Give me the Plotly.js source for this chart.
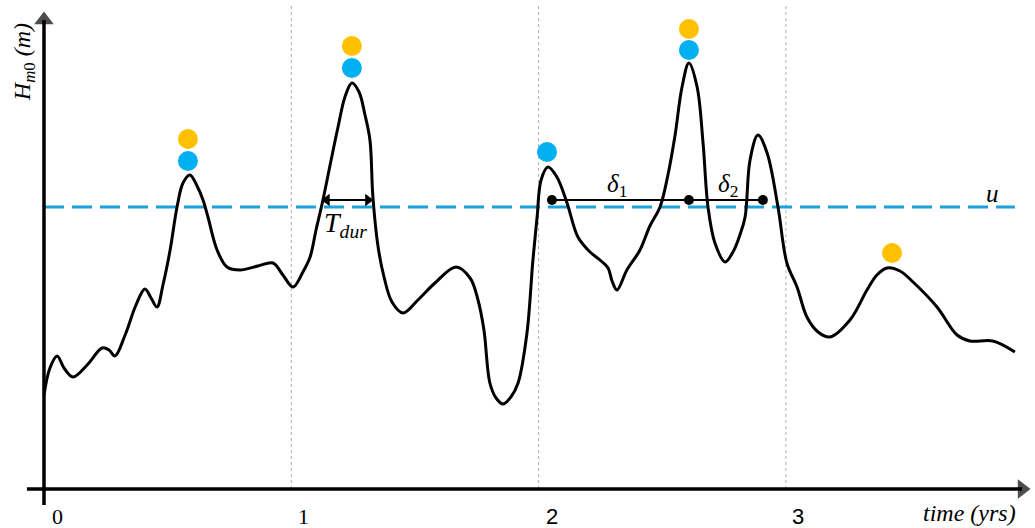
<!DOCTYPE html>
<html>
<head>
<meta charset="utf-8">
<script src="https://cdn.plot.ly/plotly-3.0.1.min.js"></script>
<style>html,body{margin:0;padding:0;background:#fff;}#chart{width:1035px;height:528px;}</style>
</head>
<body>
<div id="chart"></div>
<script>
// time series (years) and wave height Hm0 (m)
const time = [0,0.024,0.053,0.081,0.117,0.178,0.235,0.263,0.287,0.328,0.372,0.408,0.433,0.457,0.481,0.510,0.538,0.562,0.590,0.619,0.643,0.663,0.700,0.740,0.793,0.865,0.926,0.966,1.007,1.047,1.076,1.100,1.128,1.161,1.189,1.217,1.245,1.274,1.298,1.318,1.330,1.351,1.375,1.407,1.452,1.512,1.581,1.666,1.723,1.755,1.779,1.803,1.828,1.856,1.888,1.917,1.953,1.977,1.994,2.010,2.038,2.074,2.115,2.159,2.208,2.248,2.281,2.297,2.317,2.357,2.410,2.450,2.491,2.523,2.552,2.580,2.608,2.641,2.665,2.685,2.713,2.754,2.786,2.814,2.835,2.855,2.887,2.924,2.968,3.004,3.045,3.085,3.130,3.178,3.259,3.328,3.368,3.409,3.461,3.514,3.611,3.692,3.744,3.837,3.926];
const hm0 = [0.94,1.21,1.33,1.21,1.12,1.25,1.41,1.39,1.33,1.54,1.84,2.00,1.91,1.82,2.04,2.39,2.82,3.06,3.14,3.03,2.89,2.72,2.39,2.22,2.19,2.23,2.26,2.14,2.02,2.17,2.32,2.59,2.89,3.29,3.62,3.92,4.06,3.97,3.74,3.49,2.92,2.42,2.12,1.87,1.76,1.89,2.06,2.22,2.11,1.89,1.59,1.06,0.91,0.85,0.92,1.06,1.56,2.29,2.72,3.09,3.22,3.12,2.86,2.52,2.37,2.29,2.21,2.08,1.99,2.19,2.39,2.63,2.82,3.14,3.54,4.02,4.26,4.02,3.46,2.82,2.46,2.27,2.37,2.54,2.72,3.29,3.54,3.36,2.82,2.26,2.02,1.72,1.57,1.52,1.69,1.99,2.14,2.21,2.18,2.07,1.82,1.54,1.48,1.48,1.37];

// threshold u
const threshold = 2.82;
const thresholdSpan = [0, 3.926];

// peak markers
const bluePeakT = [0.582, 1.245, 2.034, 2.608];
const bluePeakH = [3.28, 4.21, 3.37, 4.39];
const orangePeakT = [0.582, 1.245, 2.608, 3.429];
const orangePeakH = [3.50, 4.43, 4.60, 2.36];

// inter-event spacing (delta) markers
const deltaT = [2.054, 2.608, 2.907];
const deltaH = [2.89, 2.89, 2.89];

// duration T_dur
const durSpan = [1.124, 1.330];
const durH = 2.89;

// year ticks
const tickVals = [1, 2, 3];
const tickLabels = ['0', '1', '2', '3'];
const tickLabelPos = [0.053, 1.051, 2.054, 3.049];

const xr = [-0.1779, 4.0073];
const yr = [-0.39, 4.89];

const traces = [
  {x: thresholdSpan, y: [threshold, threshold], mode: 'lines',
   line: {color: '#1ba1dc', width: 3, dash: '20px,8px'}, hoverinfo: 'skip'},
  {x: time, y: hm0, mode: 'lines', line: {color: '#000', width: 3, shape: 'spline', smoothing: 1.0}},
  {x: deltaT, y: deltaH, mode: 'lines+markers', line: {color: '#000', width: 2},
   marker: {color: '#000', size: 10}},
  {x: bluePeakT, y: bluePeakH, mode: 'markers', marker: {color: '#00b0f0', size: 20}},
  {x: orangePeakT, y: orangePeakH, mode: 'markers', marker: {color: '#ffc000', size: 20}},
  // x axis with arrow head
  {x: [-0.069, 3.955], y: [0, 0], mode: 'lines+markers', line: {color: '#000', width: 3.5},
   marker: {symbol: ['circle', 'triangle-right'], size: [0, 17], color: '#000', line: {width: 0}}},
  // y axis with arrow head
  {x: [0, 0], y: [-0.16, 4.69], mode: 'lines+markers', line: {color: '#000', width: 3.5},
   marker: {symbol: ['circle', 'triangle-up'], size: [0, 17], color: '#000', line: {width: 0}}},
  // T_dur double arrow
  {x: durSpan, y: [durH, durH], mode: 'lines', line: {color: '#000', width: 2}},
  {x: [durSpan[0] + 0.02, durSpan[1] - 0.02], y: [durH, durH], mode: 'markers',
   marker: {symbol: ['triangle-left', 'triangle-right'], size: 11, color: '#000', line: {width: 0}}}
];

const shapes = tickVals.map(v => ({type: 'line', xref: 'x', yref: 'y', x0: v, x1: v, y0: 0, y1: 4.84,
  line: {color: '#b0b0b0', width: 1, dash: 'dot'}, layer: 'below'}));

const serif = 'Liberation Serif';
const anns = [
  {x: 1.219, y: 2.65, xref: 'x', yref: 'y', text: '<i>T</i><sub><i>dur</i></sub>', showarrow: false,
   font: {family: serif, size: 28, color: '#000'}},
  {x: 2.317, y: 3.04, xref: 'x', yref: 'y', text: '<i>δ</i><sub>1</sub>', showarrow: false,
   font: {family: serif, size: 25, color: '#000'}},
  {x: 2.766, y: 3.04, xref: 'x', yref: 'y', text: '<i>δ</i><sub>2</sub>', showarrow: false,
   font: {family: serif, size: 25, color: '#000'}},
  {x: 3.837, y: 2.96, xref: 'x', yref: 'y', text: '<i>u</i>', showarrow: false,
   font: {family: serif, size: 25, color: '#000'}},
  {x: 3.744, y: -0.24, xref: 'x', yref: 'y', text: '<i>time (yrs)</i>', showarrow: false,
   font: {family: serif, size: 24, color: '#000'}},
  {x: -0.080, y: 4.27, xref: 'x', yref: 'y', text: '<i>H</i><sub><i>m</i>0</sub> <i>(m)</i>', showarrow: false,
   textangle: -90, font: {family: serif, size: 24, color: '#000'}}
];
tickLabels.forEach((t, i) => anns.push({x: tickLabelPos[i], y: -0.27, xref: 'x', yref: 'y', text: t, showarrow: false,
  font: {family: i < 2 ? serif : 'Liberation Sans', size: 22, color: '#000'}}));

const layout = {
  width: 1035, height: 528, autosize: false,
  margin: {l: 0, r: 0, t: 0, b: 0, pad: 0},
  paper_bgcolor: '#fff', plot_bgcolor: '#fff', showlegend: false,
  xaxis: {range: xr, visible: false, fixedrange: true},
  yaxis: {range: yr, visible: false, fixedrange: true},
  shapes: shapes, annotations: anns
};
Plotly.newPlot('chart', traces, layout, {displayModeBar: false, staticPlot: true});
</script>
</body>
</html>
